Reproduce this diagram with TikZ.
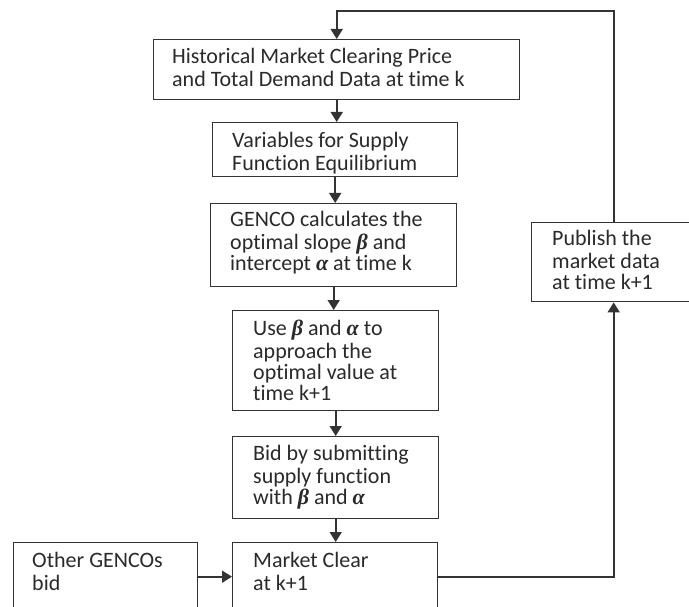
\documentclass[tikz,border=0pt]{standalone}
\usepackage{fontspec}
\setmainfont{Carlito}[RawFeature=-liga]
\newfontfamily\grk{Liberation Serif}
\usetikzlibrary{arrows.meta,calc}
\definecolor{linec}{HTML}{333333}
\definecolor{txtc}{HTML}{2a2a2a}
\newcommand\gbeta{{\grk\bfseries\itshape β}}
\newcommand\galpha{{\grk\bfseries\itshape α}}
\begin{document}
\begin{tikzpicture}[x=1pt,y=-1pt,
  box/.style={draw=linec,line width=1.4pt,inner sep=0pt,anchor=north west,fill=white},
  txt/.style={anchor=north west,inner sep=0pt,align=left,text=txtc,
    font=\fontsize{22}{21}\selectfont},
  arr/.style={draw=linec,line width=1.7pt,-{Triangle[width=12pt,length=10pt]}},
  ln/.style={draw=linec,line width=1.7pt}]
\useasboundingbox (0,0) rectangle (689,607);
% boxes
\node[box,minimum width=366pt,minimum height=60pt] (b1) at (153,39) {};
\node[box,minimum width=245pt,minimum height=54pt] (b2) at (212,122) {};
\node[box,minimum width=246pt,minimum height=83pt] (b3) at (210,203) {};
\node[box,minimum width=206pt,minimum height=100pt] (b4) at (232,310) {};
\node[box,minimum width=206pt,minimum height=82pt] (b5) at (232,436) {};
\node[box,minimum width=205pt,minimum height=68pt] (b6) at (232,542) {};
\node[box,minimum width=184pt,minimum height=68pt] (b7) at (13,542) {};
\node[box,minimum width=164pt,minimum height=79pt] (b8) at (531,222) {};
% texts
\node[txt] (t1) at (172,48) {\strut Historical Market Clearing Price\\and Total Demand Data at time k};
\node[txt] (t2) at (232,132) {\strut Variables for Supply\\Function Equilibrium};
\node[txt] (t3) at (230,211) {\strut GENCO calculates the\\optimal slope \gbeta\ and\\intercept \galpha\ at time k};
\node[txt] (t4) at (253,320) {\strut Use \gbeta\ and \galpha\ to\\approach the\\optimal value at\\time k+1};
\node[txt] (t5) at (253,445) {\strut Bid by submitting\\supply function\\with \gbeta\ and \galpha};
\node[txt] (t6) at (253,552) {\strut Market Clear\\at k+1};
\node[txt] (t7) at (32,552) {\strut Other GENCOs\\bid};
\node[txt] (t8) at (552,230) {\strut Publish the\\market data\\at time k+1};
% connectors
\draw[arr] (b1.south) -- (b1.south |- b2.north);
\draw[arr] (b2.south) -- (b2.south |- b3.north);
\draw[arr] (b3.south) -- (b3.south |- b4.north);
\draw[arr] (b4.south) -- (b4.south |- b5.north);
\draw[arr] (b5.south) -- (b5.south |- b6.north);
\draw[arr] (b7.east) -- (b6.west);
\draw[arr] (b6.east) -| (b8.south);
\coordinate (topc) at ($(b1.north)+(0,-28)$);
\draw[arr] (b8.north) |- (topc) -- (b1.north);
\end{tikzpicture}
\end{document}
